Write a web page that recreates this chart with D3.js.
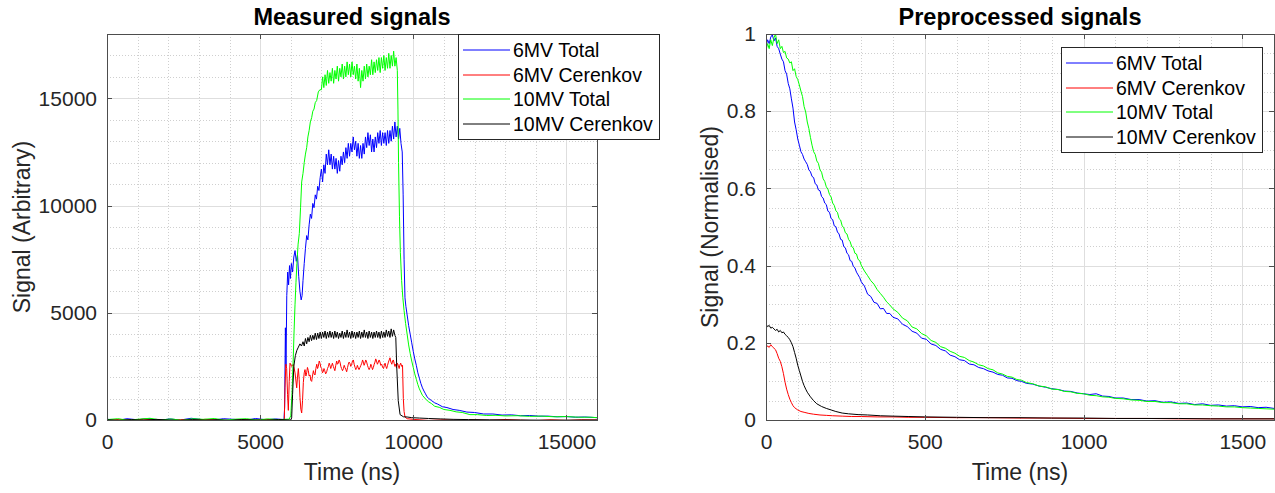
<!DOCTYPE html>
<html>
<head>
<meta charset="utf-8">
<script src="https://cdn.jsdelivr.net/npm/d3@7"></script>
<style>
    html, body { margin: 0; padding: 0; background: #fff; }
    svg { display: block; font-family: 'Liberation Sans', Arial, Helvetica, sans-serif; }
</style>
</head>
<body>
<svg id="chart" width="1275" height="493"></svg>
<script>
// Signals - measured vs preprocessed

// 凡例
const seriesNames = ['6MV Total', '6MV Cerenkov', '10MV Total', '10MV Cerenkov'];
const seriesColors = ['#0000ff', '#ff0000', '#00ff00', '#000000'];

// 軸の目盛り
const measuredXTicks = [0, 5000, 10000, 15000];
const measuredYTicks = [0, 5000, 10000, 15000];
const preXTicks = [0, 500, 1000, 1500];
const preYTicks = [0, 0.2, 0.4, 0.6, 0.8, 1];

// Measured signals: [time (ns), signal]
const measured6Total = [
    [0, 40], [300, -30], [650, 60], [1000, 10], [1350, 70], [1700, -20], [2050, 50], [2400, 0],
    [2750, 80], [3100, 20], [3450, -10], [3800, 60], [4150, 30], [4500, -20], [4850, 70], [5200, 10],
    [5500, 50], [5780, 20], [5800, 600], [5825, 4300], [5845, 2500], [5870, 5800], [5900, 6900],
    [5930, 6300], [5960, 7200], [5990, 6600], [6020, 7300], [6060, 6900], [6100, 7600], [6140, 7900],
    [6180, 7400], [6220, 7700], [6260, 6700], [6300, 6000], [6340, 5600], [6370, 5800], [6400, 6500],
    [6440, 7300], [6480, 8000], [6520, 8600], [6560, 8400], [6600, 9100], [6640, 9600], [6680, 9400],
    [6720, 10100], [6760, 9900], [6800, 10500], [6840, 10300], [6880, 10900], [6920, 10700],
    [6960, 11300], [7000, 11700], [7040, 11100], [7080, 11900], [7120, 11500], [7160, 12400],
    [7200, 11900], [7240, 12600], [7280, 11900], [7320, 12400], [7360, 11700], [7400, 12300],
    [7440, 11700], [7480, 12200], [7520, 11500], [7560, 12100], [7600, 11600], [7640, 12300],
    [7680, 11900], [7720, 12500], [7760, 12000], [7800, 12700], [7840, 12200], [7880, 12900],
    [7920, 12300], [7960, 12900], [8000, 12500], [8040, 13200], [8080, 12600], [8120, 13000],
    [8160, 12300], [8200, 12900], [8240, 12200], [8280, 12800], [8320, 12200], [8360, 12900],
    [8400, 12400], [8440, 13200], [8480, 12700], [8520, 13400], [8560, 12800], [8600, 13300],
    [8640, 12500], [8680, 13100], [8720, 12500], [8760, 13200], [8800, 12700], [8840, 13400],
    [8880, 12900], [8920, 13500], [8960, 12800], [9000, 13400], [9040, 12900], [9080, 13400],
    [9120, 12800], [9160, 13500], [9200, 12900], [9240, 13500], [9280, 13000], [9320, 13700],
    [9360, 13100], [9400, 13900], [9440, 13200], [9480, 13700], [9520, 13100], [9560, 13600],
    [9600, 12900], [9640, 12500], [9670, 10500], [9700, 7500], [9730, 5700], [9760, 5300],
    [9800, 4900], [9850, 4400], [9900, 4000], [9950, 3600], [10000, 3200], [10050, 2850],
    [10100, 2550], [10150, 2200], [10200, 1950], [10250, 1700], [10300, 1500], [10350, 1350],
    [10400, 1220], [10450, 1080], [10500, 1010], [10600, 900], [10700, 800], [10800, 740],
    [10950, 620], [11100, 580], [11300, 490], [11500, 450], [11750, 370], [12000, 350], [12300, 280],
    [12600, 280], [12900, 230], [13200, 240], [13500, 200], [13800, 210], [14100, 180], [14400, 180],
    [14700, 150], [15000, 160], [15300, 130], [15600, 140], [16000, 110]
];
const measured6Cer = [
    [0, -20], [400, 30], [800, -10], [1200, 40], [1600, 0], [2000, -30], [2400, 20], [2800, -10],
    [3200, 30], [3600, 0], [4000, -20], [4400, 20], [4800, -10], [5200, 30], [5600, 0], [5750, 10],
    [5790, 20], [5812, 1500], [5840, 2600], [5867, 2400], [5895, 1200], [5921, 450], [5950, 1800],
    [5976, 2650], [6030, 2500], [6084, 2600], [6140, 2200], [6194, 1500], [6220, 2000], [6248, 2400],
    [6275, 1900], [6302, 1050], [6330, 500], [6357, 330], [6385, 900], [6411, 1750], [6440, 2200],
    [6465, 2350], [6495, 2050], [6520, 2200], [6545, 2450], [6574, 2300], [6600, 2050], [6630, 2100],
    [6655, 1850], [6683, 1800], [6710, 2050], [6740, 2300], [6765, 2150], [6792, 2100], [6820, 2400],
    [6850, 2600], [6875, 2400], [6900, 2500], [6930, 2750], [6955, 2650], [6985, 2450], [7010, 2400],
    [7035, 2200], [7060, 2250], [7085, 2400], [7110, 2300], [7140, 2150], [7173, 2250], [7200, 2400],
    [7230, 2500], [7255, 2650], [7280, 2550], [7305, 2400], [7330, 2500], [7360, 2650], [7390, 2500],
    [7415, 2400], [7440, 2300], [7470, 2550], [7500, 2750], [7525, 2600], [7550, 2650], [7580, 2800],
    [7608, 2700], [7635, 2500], [7660, 2400], [7690, 2300], [7720, 2400], [7745, 2550], [7770, 2450],
    [7800, 2350], [7826, 2250], [7855, 2450], [7880, 2600], [7905, 2700], [7930, 2650], [7960, 2500],
    [7990, 2600], [8015, 2750], [8044, 2800], [8070, 2600], [8100, 2450], [8125, 2350], [8150, 2400],
    [8175, 2550], [8200, 2450], [8230, 2350], [8261, 2450], [8290, 2550], [8320, 2650], [8345, 2800],
    [8370, 2700], [8395, 2550], [8420, 2650], [8450, 2800], [8479, 2700], [8505, 2550], [8530, 2450],
    [8560, 2350], [8590, 2450], [8615, 2600], [8640, 2500], [8670, 2350], [8697, 2450], [8725, 2600],
    [8750, 2700], [8775, 2850], [8800, 2750], [8830, 2600], [8860, 2700], [8885, 2800], [8914, 2700],
    [8940, 2550], [8970, 2600], [9000, 2450], [9030, 2400], [9055, 2550], [9080, 2650], [9105, 2500],
    [9132, 2400], [9160, 2550], [9190, 2700], [9215, 2800], [9240, 2900], [9270, 2700], [9300, 2600],
    [9325, 2750], [9350, 2800], [9375, 2650], [9400, 2500], [9425, 2600], [9450, 2450], [9480, 2650],
    [9512, 2550], [9540, 2400], [9560, 2550], [9590, 2650], [9622, 2500], [9650, 2550], [9676, 1000],
    [9700, 400], [9731, 140], [9800, 60], [10000, 30], [10500, -20], [11000, 10], [11500, -30],
    [12000, 0], [12500, -20], [13000, 20], [13500, -10], [14000, -30], [14500, 10], [15000, -20],
    [15500, 10], [16000, 0]
];
const measured10Total = [
    [0, 20], [350, 60], [700, -10], [1050, 40], [1400, 80], [1750, 0], [2100, 50], [2450, -20],
    [2800, 60], [3150, 30], [3500, 70], [3850, -10], [4200, 40], [4550, 60], [4900, 0], [5250, 50],
    [5600, 20], [5950, 40], [6000, 200], [6040, 1200], [6080, 2800], [6110, 4200], [6140, 5400],
    [6170, 6400], [6200, 7300], [6240, 8200], [6280, 8700], [6320, 9900], [6357, 11100], [6400, 11500],
    [6440, 12000], [6480, 12400], [6520, 12700], [6560, 13200], [6600, 13500], [6640, 13900],
    [6683, 14100], [6720, 14400], [6760, 14500], [6800, 14800], [6847, 14900], [6900, 15300],
    [6950, 15400], [7000, 15400], [7040, 16000], [7080, 15500], [7120, 16100], [7160, 15600],
    [7200, 16300], [7240, 15700], [7280, 16200], [7320, 15800], [7360, 16400], [7400, 15700],
    [7440, 16300], [7480, 15900], [7520, 16500], [7560, 15800], [7600, 16400], [7640, 16000],
    [7680, 16600], [7720, 15900], [7760, 16500], [7800, 16000], [7840, 16700], [7880, 16100],
    [7920, 16600], [7960, 16000], [8000, 16700], [8040, 16100], [8080, 16500], [8120, 15900],
    [8160, 16600], [8200, 15800], [8240, 16400], [8280, 15500], [8320, 16300], [8360, 15800],
    [8400, 16500], [8440, 15900], [8480, 16600], [8520, 16000], [8560, 16500], [8600, 16100],
    [8640, 16800], [8680, 16100], [8720, 16700], [8760, 16200], [8800, 16800], [8840, 16300],
    [8880, 16900], [8920, 16200], [8960, 16900], [9000, 16400], [9040, 17000], [9080, 16300],
    [9120, 16900], [9160, 16400], [9200, 17100], [9240, 16400], [9280, 17000], [9320, 16500],
    [9360, 17200], [9400, 16500], [9440, 16900], [9480, 16300], [9500, 14500], [9520, 12000],
    [9550, 9500], [9580, 7800], [9620, 6500], [9660, 5700], [9700, 5100], [9750, 4500], [9800, 4000],
    [9850, 3500], [9900, 3100], [9950, 2750], [10000, 2450], [10050, 2150], [10100, 1900],
    [10150, 1650], [10200, 1450], [10250, 1300], [10300, 1150], [10400, 980], [10500, 850],
    [10600, 760], [10700, 640], [10850, 590], [11000, 490], [11200, 450], [11400, 380], [11600, 350],
    [11850, 250], [12100, 250], [12400, 210], [12700, 220], [13000, 190], [13400, 200], [13800, 170],
    [14200, 180], [14600, 150], [15000, 160], [15400, 130], [15800, 130], [16000, 110]
];
const measured10Cer = [
    [0, 10], [400, -20], [800, 20], [1200, -10], [1600, 30], [2000, 0], [2400, -20], [2800, 20],
    [3200, -10], [3600, 10], [4000, -20], [4400, 20], [4800, 0], [5200, -10], [5600, 20], [6000, 0],
    [6030, 100], [6060, 1200], [6100, 2500], [6150, 3000], [6200, 3250], [6250, 3400], [6300, 3550],
    [6350, 3450], [6400, 3650], [6440, 3450], [6480, 3800], [6520, 3550], [6560, 3850], [6600, 3650],
    [6640, 3950], [6680, 3700], [6720, 3950], [6760, 3750], [6800, 4050], [6840, 3750], [6880, 4050],
    [6920, 3800], [6960, 4100], [7000, 3800], [7040, 4100], [7080, 3850], [7120, 4150], [7160, 3800],
    [7200, 4100], [7240, 3850], [7280, 4150], [7320, 3850], [7360, 4100], [7400, 3800], [7440, 4150],
    [7480, 3850], [7520, 4100], [7560, 3800], [7600, 4050], [7640, 3850], [7680, 4150], [7720, 3800],
    [7760, 4100], [7800, 3850], [7840, 4200], [7880, 3850], [7920, 4100], [7960, 3800], [8000, 4150],
    [8040, 3850], [8080, 4100], [8120, 3800], [8160, 4100], [8200, 3850], [8240, 4150], [8280, 3800],
    [8320, 4100], [8360, 3850], [8400, 4200], [8440, 3850], [8480, 4100], [8520, 3800], [8560, 4150],
    [8600, 3850], [8640, 4100], [8680, 3800], [8720, 4100], [8760, 3850], [8800, 4150], [8840, 3850],
    [8880, 4100], [8920, 3800], [8960, 4150], [9000, 3850], [9040, 4100], [9080, 3850], [9120, 4200],
    [9160, 3900], [9200, 4150], [9240, 3850], [9280, 4250], [9320, 3900], [9360, 4200], [9400, 3950],
    [9430, 3850], [9460, 2500], [9510, 900], [9570, 250], [9680, 150], [9800, 140], [9950, 110],
    [10200, 90], [10500, 70], [10900, 50], [11300, 30], [11800, 20], [12500, 10], [13500, 0],
    [14500, -10], [16000, 0]
];

// Preprocessed signals: [time (ns), normalised signal]
const pre6Total = [
    [0, 0.968], [5, 0.985], [10, 0.975], [15, 0.992], [20, 0.998], [25, 0.982], [30, 0.99],
    [35, 0.968], [40, 0.962], [45, 0.948], [50, 0.935], [55, 0.928], [60, 0.905], [65, 0.896],
    [70, 0.872], [75, 0.858], [80, 0.832], [85, 0.808], [90, 0.772], [95, 0.752], [100, 0.728],
    [105, 0.712], [110, 0.695], [115, 0.688], [120, 0.676], [125, 0.669], [130, 0.662], [135, 0.648],
    [140, 0.643], [145, 0.631], [150, 0.628], [155, 0.612], [160, 0.609], [165, 0.596], [170, 0.594],
    [175, 0.579], [180, 0.575], [185, 0.562], [190, 0.558], [195, 0.541], [200, 0.538], [205, 0.522],
    [210, 0.519], [215, 0.503], [220, 0.501], [225, 0.487], [230, 0.482], [235, 0.468], [240, 0.466],
    [245, 0.449], [250, 0.446], [255, 0.432], [260, 0.428], [265, 0.413], [270, 0.411], [275, 0.398],
    [280, 0.394], [285, 0.383], [290, 0.376], [295, 0.369], [300, 0.358], [310, 0.347], [320, 0.326],
    [330, 0.32], [340, 0.305], [350, 0.302], [360, 0.288], [370, 0.289], [380, 0.276], [390, 0.276],
    [400, 0.266], [415, 0.262], [430, 0.248], [445, 0.242], [460, 0.23], [475, 0.225], [490, 0.212],
    [505, 0.209], [520, 0.197], [535, 0.193], [550, 0.183], [565, 0.179], [580, 0.168], [595, 0.164],
    [610, 0.156], [625, 0.154], [640, 0.145], [655, 0.143], [670, 0.136], [685, 0.133], [700, 0.127],
    [715, 0.124], [730, 0.118], [745, 0.116], [760, 0.109], [775, 0.108], [790, 0.102], [805, 0.1],
    [820, 0.095], [840, 0.093], [860, 0.088], [880, 0.085], [900, 0.081], [920, 0.079], [940, 0.075],
    [960, 0.074], [980, 0.07], [1000, 0.068], [1020, 0.066], [1040, 0.068], [1060, 0.062],
    [1080, 0.061], [1100, 0.057], [1125, 0.057], [1150, 0.053], [1175, 0.053], [1200, 0.049],
    [1225, 0.05], [1250, 0.046], [1275, 0.047], [1300, 0.043], [1325, 0.044], [1350, 0.04],
    [1375, 0.042], [1400, 0.038], [1425, 0.039], [1450, 0.036], [1475, 0.037], [1500, 0.034],
    [1525, 0.035], [1550, 0.032], [1575, 0.033], [1600, 0.03]
];
const pre6Cer = [
    [0, 0.186], [5, 0.192], [10, 0.188], [15, 0.195], [20, 0.19], [25, 0.186], [30, 0.182],
    [35, 0.172], [40, 0.16], [45, 0.152], [50, 0.138], [55, 0.12], [60, 0.098], [65, 0.08],
    [70, 0.066], [75, 0.054], [80, 0.045], [85, 0.037], [90, 0.032], [100, 0.026], [110, 0.022],
    [120, 0.02], [135, 0.017], [150, 0.015], [170, 0.013], [190, 0.012], [210, 0.011], [240, 0.01],
    [270, 0.009], [300, 0.009], [350, 0.008], [400, 0.008], [450, 0.007], [500, 0.007], [600, 0.006],
    [700, 0.006], [800, 0.005], [900, 0.005], [1000, 0.004], [1100, 0.004], [1200, 0.004],
    [1300, 0.003], [1400, 0.003], [1500, 0.003], [1600, 0.003]
];
const pre10Total = [
    [0, 0.958], [5, 0.975], [10, 0.962], [15, 0.985], [20, 0.97], [25, 0.99], [30, 1.0], [35, 0.975],
    [40, 0.985], [45, 0.962], [50, 0.968], [55, 0.952], [60, 0.955], [65, 0.938], [70, 0.935],
    [75, 0.925], [80, 0.928], [85, 0.905], [90, 0.91], [95, 0.89], [100, 0.882], [105, 0.868],
    [110, 0.852], [115, 0.838], [120, 0.812], [125, 0.798], [130, 0.772], [135, 0.755], [140, 0.732],
    [145, 0.712], [150, 0.695], [155, 0.688], [160, 0.671], [165, 0.665], [170, 0.648], [175, 0.642],
    [180, 0.625], [185, 0.618], [190, 0.604], [195, 0.598], [200, 0.584], [205, 0.578], [210, 0.562],
    [215, 0.556], [220, 0.542], [225, 0.538], [230, 0.522], [235, 0.518], [240, 0.503], [245, 0.498],
    [250, 0.485], [255, 0.482], [260, 0.468], [265, 0.462], [270, 0.449], [275, 0.446], [280, 0.432],
    [285, 0.43], [290, 0.416], [295, 0.413], [300, 0.401], [310, 0.386], [320, 0.374], [330, 0.361],
    [340, 0.352], [350, 0.338], [360, 0.328], [370, 0.318], [380, 0.306], [390, 0.298], [400, 0.288],
    [415, 0.279], [430, 0.264], [445, 0.257], [460, 0.241], [475, 0.236], [490, 0.224], [505, 0.218],
    [520, 0.206], [535, 0.201], [550, 0.19], [565, 0.186], [580, 0.178], [595, 0.173], [610, 0.165],
    [625, 0.162], [640, 0.154], [655, 0.15], [670, 0.143], [685, 0.14], [700, 0.133], [715, 0.13],
    [730, 0.122], [745, 0.119], [760, 0.113], [775, 0.111], [790, 0.105], [805, 0.103], [820, 0.097],
    [840, 0.094], [860, 0.088], [880, 0.086], [900, 0.08], [920, 0.079], [940, 0.074], [960, 0.073],
    [980, 0.069], [1000, 0.068], [1020, 0.064], [1040, 0.063], [1060, 0.06], [1080, 0.059],
    [1100, 0.056], [1125, 0.055], [1150, 0.052], [1175, 0.051], [1200, 0.048], [1225, 0.048],
    [1250, 0.045], [1275, 0.045], [1300, 0.042], [1325, 0.042], [1350, 0.039], [1375, 0.039],
    [1400, 0.037], [1425, 0.036], [1450, 0.034], [1475, 0.034], [1500, 0.032], [1525, 0.031],
    [1550, 0.03], [1575, 0.029], [1600, 0.028]
];
const pre10Cer = [
    [0, 0.248], [5, 0.242], [10, 0.245], [15, 0.238], [20, 0.24], [25, 0.236], [30, 0.232],
    [35, 0.235], [40, 0.228], [45, 0.232], [50, 0.226], [55, 0.228], [60, 0.222], [65, 0.218],
    [70, 0.214], [75, 0.208], [80, 0.2], [85, 0.19], [90, 0.175], [95, 0.16], [100, 0.142],
    [105, 0.128], [110, 0.114], [115, 0.1], [120, 0.089], [125, 0.08], [130, 0.072], [140, 0.06],
    [150, 0.05], [160, 0.042], [175, 0.035], [190, 0.03], [205, 0.026], [220, 0.022], [240, 0.018],
    [260, 0.016], [290, 0.014], [320, 0.013], [360, 0.011], [400, 0.01], [450, 0.009], [500, 0.008],
    [600, 0.007], [700, 0.006], [800, 0.006], [900, 0.005], [1000, 0.005], [1100, 0.004],
    [1200, 0.004], [1300, 0.004], [1400, 0.003], [1500, 0.003], [1600, 0.003]
];

class SignalPanel {
    constructor(svg, cfg) {
        this.svg = svg;
        this.cfg = cfg;
        this.g = svg.append('g').attr('class', cfg.id);
        this.init();
    }

    init() {
        this.setupScales();
        this.renderGrid();
        this.renderSeries();
        this.renderAxes();
        this.renderLabels();
        this.renderLegend();
    }

    setupScales() {
        const c = this.cfg;
        this.x = d3.scaleLinear().domain(c.xDomain).range([c.left, c.right]);
        this.y = d3.scaleLinear().domain(c.yDomain).range([c.bottom, c.top]);
    }

    renderGrid() {
        const c = this.cfg;
        const grid = this.g.append('g').attr('class', 'grid').attr('shape-rendering', 'crispEdges');

        // 補助グリッド（点線）
        const xMinor = d3.range(c.xDomain[0], c.xDomain[1] + 1e-9, c.xMinor).filter(v => !c.xTicks.includes(v));
        const yMinor = d3.range(c.yDomain[0], c.yDomain[1] + 1e-9, c.yMinor)
            .filter(v => !c.yTicks.some(t => Math.abs(t - v) < 1e-9));

        grid.selectAll('.xminor').data(xMinor).enter().append('line')
            .attr('x1', d => Math.round(this.x(d)) + 0.5).attr('x2', d => Math.round(this.x(d)) + 0.5)
            .attr('y1', c.top).attr('y2', c.bottom)
            .attr('stroke', '#cfcfcf').attr('stroke-dasharray', '1,2');
        grid.selectAll('.yminor').data(yMinor).enter().append('line')
            .attr('y1', d => Math.round(this.y(d)) + 0.5).attr('y2', d => Math.round(this.y(d)) + 0.5)
            .attr('x1', c.left).attr('x2', c.right)
            .attr('stroke', '#cfcfcf').attr('stroke-dasharray', '1,2');

        // 主グリッド
        grid.selectAll('.xmajor').data(c.xTicks).enter().append('line')
            .attr('x1', d => Math.round(this.x(d)) + 0.5).attr('x2', d => Math.round(this.x(d)) + 0.5)
            .attr('y1', c.top).attr('y2', c.bottom)
            .attr('stroke', '#dedede');
        grid.selectAll('.ymajor').data(c.yTicks).enter().append('line')
            .attr('y1', d => Math.round(this.y(d)) + 0.5).attr('y2', d => Math.round(this.y(d)) + 0.5)
            .attr('x1', c.left).attr('x2', c.right)
            .attr('stroke', '#dedede');
    }

    renderSeries() {
        const c = this.cfg;
        const clipId = 'clip-' + c.id;
        this.g.append('clipPath').attr('id', clipId)
            .append('rect')
            .attr('x', c.left).attr('y', c.top)
            .attr('width', c.right - c.left).attr('height', c.bottom - c.top);

        const line = d3.line()
            .x(d => this.x(d[0]))
            .y(d => this.y(d[1]));

        this.g.append('g')
            .attr('clip-path', `url(#${clipId})`)
            .selectAll('path')
            .data(c.series)
            .enter()
            .append('path')
            .attr('d', d => line(d))
            .attr('fill', 'none')
            .attr('stroke', (d, i) => seriesColors[i])
            .attr('stroke-width', 1)
            .attr('stroke-linejoin', 'round');
    }

    renderAxes() {
        const c = this.cfg;
        const tickLen = 5;
        const fmt = d3.format('~g');

        // 四辺の軸（目盛りは内向き）
        const bottomAxis = d3.axisBottom(this.x).tickValues(c.xTicks).tickSizeInner(-tickLen).tickSizeOuter(0)
            .tickFormat(fmt).tickPadding(14);
        const topAxis = d3.axisTop(this.x).tickValues(c.xTicks).tickSizeInner(-tickLen).tickSizeOuter(0)
            .tickFormat('');
        const leftAxis = d3.axisLeft(this.y).tickValues(c.yTicks).tickSizeInner(-tickLen).tickSizeOuter(0)
            .tickFormat(fmt).tickPadding(10);
        const rightAxis = d3.axisRight(this.y).tickValues(c.yTicks).tickSizeInner(-tickLen).tickSizeOuter(0)
            .tickFormat('');

        const axes = [
            [bottomAxis, `translate(0,${c.bottom})`],
            [topAxis, `translate(0,${c.top})`],
            [leftAxis, `translate(${c.left},0)`],
            [rightAxis, `translate(${c.right},0)`]
        ];
        axes.forEach(([axis, tr]) => {
            const a = this.g.append('g').attr('transform', tr).call(axis);
            a.selectAll('path, line').attr('stroke', '#4d4d4d').attr('shape-rendering', 'crispEdges');
            a.selectAll('text').attr('fill', '#262626').attr('font-size', 21)
                .attr('font-family', "'Liberation Sans', Arial, sans-serif");
        });
    }

    renderLabels() {
        const c = this.cfg;
        const cx = (c.left + c.right) / 2;

        this.g.append('text')
            .attr('x', cx).attr('y', 25)
            .attr('text-anchor', 'middle')
            .attr('font-size', 23.5).attr('font-weight', 'bold').attr('fill', '#000')
            .text(c.title);

        this.g.append('text')
            .attr('x', cx).attr('y', 480)
            .attr('text-anchor', 'middle')
            .attr('font-size', 23).attr('fill', '#262626')
            .text('Time (ns)');

        this.g.append('text')
            .attr('transform', `translate(${c.yLabelX},${(c.top + c.bottom) / 2}) rotate(-90)`)
            .attr('text-anchor', 'middle')
            .attr('font-size', 23).attr('fill', '#262626')
            .text(c.yLabel);
    }

    renderLegend() {
        const lg = this.cfg.legend;
        const legend = this.g.append('g').attr('class', 'legend');

        legend.append('rect')
            .attr('x', lg.x + 0.5).attr('y', lg.y + 0.5)
            .attr('width', lg.w).attr('height', lg.h)
            .attr('fill', '#fff').attr('stroke', '#262626');

        const items = legend.selectAll('.legend-item')
            .data(seriesNames)
            .enter()
            .append('g')
            .attr('class', 'legend-item')
            .attr('transform', (d, i) => `translate(${lg.x},${Math.round(lg.y + lg.first + i * lg.rowH)})`);

        // 凡例の線（少しにじませて元画像に寄せる）
        items.append('line')
            .attr('x1', 5).attr('x2', 52)
            .attr('y1', 0).attr('y2', 0)
            .attr('stroke-width', 1)
            .attr('stroke', (d, i) => seriesColors[i]);

        items.append('text')
            .attr('x', 55).attr('y', 0)
            .attr('dy', '0.35em')
            .attr('font-size', 19.5).attr('fill', '#000')
            .text(d => d);
    }
}

const svg = d3.select('#chart');

new SignalPanel(svg, {
    id: 'measured',
    title: 'Measured signals',
    yLabel: 'Signal (Arbitrary)',
    yLabelX: 30,
    left: 107, right: 597, top: 34, bottom: 420,
    xDomain: [0, 16000], yDomain: [0, 18000],
    xTicks: measuredXTicks, yTicks: measuredYTicks,
    xMinor: 1000, yMinor: 1000,
    series: [measured6Total, measured6Cer, measured10Total, measured10Cer],
    legend: { x: 458, y: 34, w: 201, h: 105, first: 16, rowH: 24.7 }
});

new SignalPanel(svg, {
    id: 'pre',
    title: 'Preprocessed signals',
    yLabel: 'Signal (Normalised)',
    yLabelX: 718,
    left: 766, right: 1274, top: 34, bottom: 420,
    xDomain: [0, 1600], yDomain: [0, 1],
    xTicks: preXTicks, yTicks: preYTicks,
    xMinor: 100, yMinor: 0.05,
    series: [pre6Total, pre6Cer, pre10Total, pre10Cer],
    legend: { x: 1061, y: 47, w: 201, h: 105, first: 16, rowH: 24.7 }
});
</script>
</body>
</html>
